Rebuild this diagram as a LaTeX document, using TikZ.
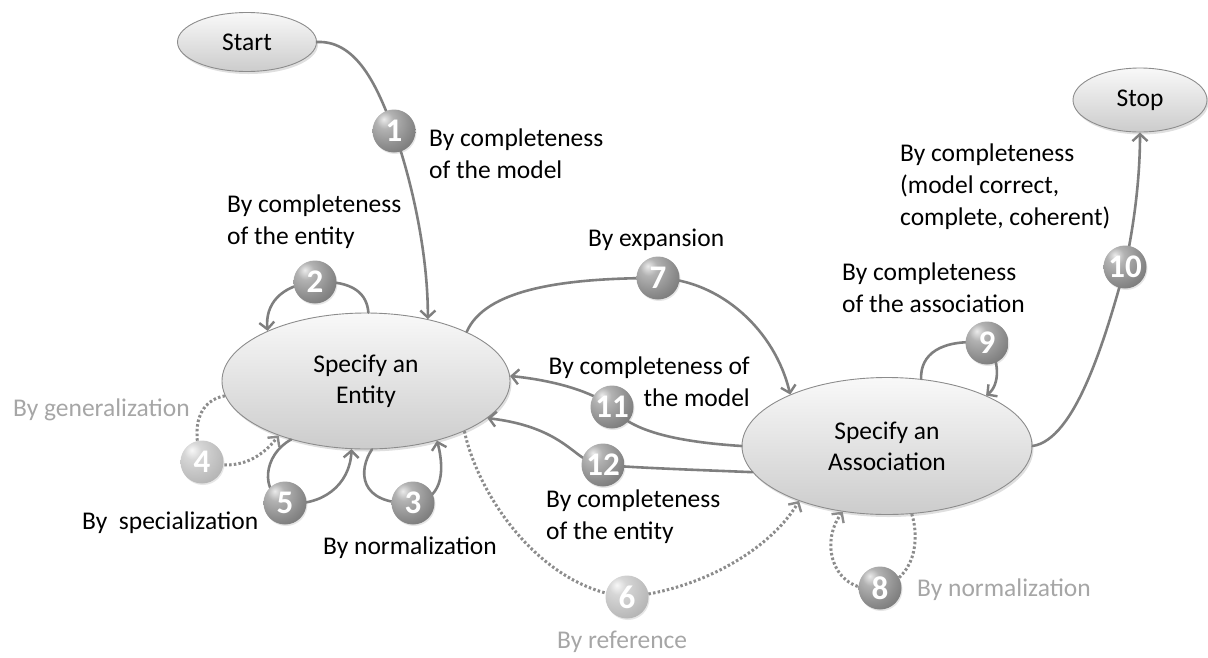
\documentclass[tikz,border=0pt]{standalone}
\usepackage{fontspec}
\setmainfont{Carlito}
\usetikzlibrary{shapes.geometric,arrows.meta,shadows}
\pgfdeclarelayer{fg}
\pgfsetlayers{main,fg}
\definecolor{linegray}{HTML}{7F7F7F}
\definecolor{dotgray}{HTML}{8C8C8C}
\definecolor{labelgray}{HTML}{A6A6A6}
\definecolor{bordergray}{HTML}{8C8C8C}
\pgfdeclareradialshading{darkball}{\pgfpoint{-12bp}{14bp}}{%
  color(0bp)=(black!8); color(10bp)=(black!30); color(28bp)=(black!45);
  color(45bp)=(black!58); color(62bp)=(black!68); color(100bp)=(black!70)}
\pgfdeclareradialshading{lightball}{\pgfpoint{-12bp}{14bp}}{%
  color(0bp)=(black!3); color(10bp)=(black!16); color(28bp)=(black!25);
  color(45bp)=(black!34); color(62bp)=(black!44); color(100bp)=(black!46)}
\tikzset{
  state/.style={ellipse, draw=bordergray, line width=0.9pt, top color=gray!5, bottom color=gray!40,
    inner sep=0pt, align=center, font=\fontsize{25.5}{31}\selectfont,
    drop shadow={opacity=0.25, shadow xshift=1.5pt, shadow yshift=-2.5pt}},
  ballnode/.style={circle, minimum size=43pt, inner sep=0pt, shading=darkball, text=white,
    font=\bfseries\fontsize{33}{33}\selectfont,
    drop shadow={opacity=0.2, shadow xshift=1pt, shadow yshift=-1.5pt}},
  paleball/.style={ballnode, shading=lightball},
  conn/.style={draw=linegray, line width=2.6pt, line cap=round,
    -{Straight Barb[length=7pt,width=15pt,line width=2.4pt]}},
  dconn/.style={draw=dotgray, line width=3pt, dash pattern=on 2.5pt off 2.2pt,
    -{Straight Barb[length=7pt,width=15pt,line width=2.4pt]}},
  lbl/.style={font=\fontsize{25.5}{32}\selectfont, align=left, inner sep=0pt},
  rlbl/.style={lbl, align=right},
  glbl/.style={lbl, text=labelgray}
}
\begin{document}
\begin{tikzpicture}[x=1pt,y=-1pt]
\useasboundingbox (0,0) rectangle (1208,657);

% states
\node[state, minimum width=139pt, minimum height=59pt] (start) at (247,42) {Start};
\node[state, minimum width=134pt, minimum height=64pt] (stop) at (1140,100) {Stop};
\node[state, minimum width=288pt, minimum height=136pt] (entity) at (366,381) {Specify an\\Entity};
\node[state, minimum width=290pt, minimum height=137pt] (assoc) at (887,446) {Specify an\\Association};

% balls
\begin{pgfonlayer}{fg}
\node[ballnode] (b1) at (394,131) {1};
\node[ballnode] (b2) at (315,282) {2};
\node[ballnode] (b3) at (413,503) {3};
\node[paleball] (b4) at (202,462) {4};
\node[ballnode] (b5) at (285,503) {5};
\node[paleball] (b6) at (627,597) {6};
\node[ballnode] (b7) at (658,278) {7};
\node[ballnode] (b8) at (880,588) {8};
\node[ballnode] (b9) at (987,343) {9};
\node[ballnode] (b10) at (1125,267) {10};
\node[ballnode] (b11) at (612,407) {11};
\node[ballnode] (b12) at (603,465) {12};
\end{pgfonlayer}

% connectors
\draw[conn] (start.east) .. controls (360,40) and (380,95) .. (b1.center)
  .. controls (410,175) and (428,250) .. (entity.45);
\draw[conn] (entity.88) .. controls (367,295) and (355,280) .. (b2.center)
  .. controls (280,285) and (265,305) .. (entity.153);
\draw[conn] (entity.275) .. controls (358,470) and (358,505) .. (b3.center)
  .. controls (440,500) and (446,475) .. (entity.320);
\draw[dconn] (entity.186) .. controls (200,400) and (190,425) .. (b4.center)
  .. controls (235,470) and (258,462) .. (entity.212);
\draw[conn] (entity.218) .. controls (263,455) and (260,492) .. (b5.center)
  .. controls (322,507) and (350,485) .. (entity.258);
\draw[dconn] (entity.333) .. controls (478,495) and (540,588) .. (b6.center)
  .. controls (700,590) and (770,550) .. (assoc.212);
\draw[conn] (entity.26) .. controls (485,290) and (560,278) .. (b7.center)
  .. controls (720,280) and (775,330) .. (assoc.152);
\draw[dconn] (assoc.290) .. controls (920,540) and (915,578) .. (b8.center)
  .. controls (835,595) and (818,545) .. (assoc.236);
\draw[conn] (assoc.63) .. controls (920,355) and (940,338) .. (b9.center)
  .. controls (1000,360) and (1000,385) .. (assoc.27);
\draw[conn] (assoc.0) .. controls (1075,440) and (1105,340) .. (b10.center)
  .. controls (1135,220) and (1140,175) .. (stop.south);
\draw[conn] (assoc.180) .. controls (680,442) and (630,432) .. (b11.center)
  .. controls (590,390) and (550,380) .. (entity.2);
\draw[conn] (assoc.191) .. controls (700,470) and (640,468) .. (b12.center)
  .. controls (575,465) and (570,428) .. (entity.343);

% labels
\node[lbl, anchor=west] (l1) at (429,153.5) {By completeness\\of the model};
\node[lbl, anchor=west] (l2) at (227,222) {By completeness\\of the entity};
\node[lbl, anchor=west] (l3) at (323,548) {By normalization};
\node[glbl, anchor=west] (l4) at (13,410) {By generalization};
\node[lbl, anchor=west] (l5) at (82,523) {By\ \ specialization};
\node[glbl, anchor=west] (l6) at (557,642) {By reference};
\node[lbl, anchor=west] (l7) at (588,240) {By expansion};
\node[glbl, anchor=west] (l8) at (917,590) {By normalization};
\node[lbl, anchor=west] (l9) at (842,288) {By completeness\\of the association};
\node[lbl, anchor=west] (l10) at (900,187) {By completeness\\(model correct,\\complete, coherent)};
\node[rlbl, anchor=east] (l11) at (750,382) {By completeness of\\the model};
\node[lbl, anchor=west] (l12) at (546,517) {By completeness\\of the entity};
\end{tikzpicture}
\end{document}
